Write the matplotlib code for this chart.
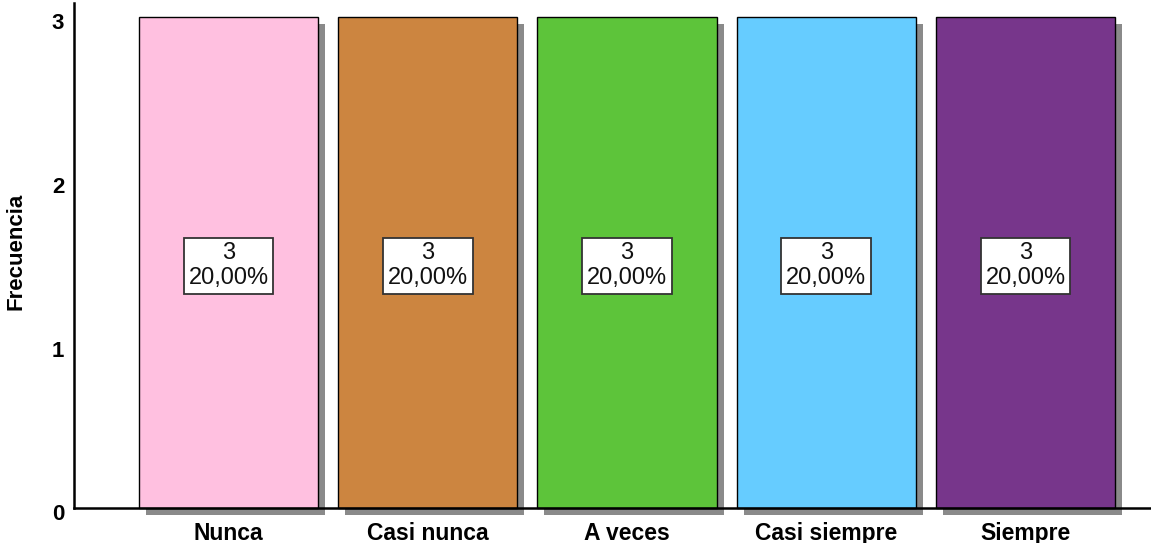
import matplotlib
matplotlib.use("Agg")
import matplotlib.pyplot as plt
import matplotlib.patheffects as pe
from matplotlib.transforms import ScaledTranslation

plt.rcParams["font.family"] = ["Liberation Sans", "DejaVu Sans"]

categories = ["Nunca", "Casi nunca", "A veces", "Casi siempre", "Siempre"]
counts = [3, 3, 3, 3, 3]
percents = [20.0, 20.0, 20.0, 20.0, 20.0]
colors = ["#FFC0E0", "#CC8540", "#5DC43A", "#66CCFF", "#77368B"]
yticks = [0, 1, 2, 3]

fig = plt.figure(figsize=(11.51, 5.43), dpi=100)
ax = fig.add_axes([0.0643, 0.0645, 0.9357, 0.93])

x = list(range(len(categories)))
bars = ax.bar(x, counts, width=0.9, color=colors, edgecolor="black",
              linewidth=1.0, zorder=3)
for b in bars:
    b.set_clip_on(False)
    b.set_path_effects([
        pe.SimplePatchShadow(offset=(5, -5), shadow_rgbFace="#8a8a8a", alpha=1.0),
        pe.Normal(),
    ])

# value labels, sitting slightly below the bar midpoint
label_shift = ScaledTranslation(0, -3.5 / 100, fig.dpi_scale_trans)
for xi, c, p in zip(x, counts, percents):
    label = f"{c}\n{p:.2f}%".replace(".", ",")
    ax.text(xi, c / 2, label, ha="center", va="center", fontsize=17,
            linespacing=1.18, zorder=5, color="#111111",
            transform=ax.transData + label_shift,
            bbox=dict(boxstyle="square,pad=0.2", facecolor="white",
                      edgecolor="#333333", linewidth=1.3))

ax.set_xlim(-0.776, 4.63)
ax.set_ylim(0, 3.085)
ax.set_xticks(x)
ax.set_xticklabels(categories, fontsize=16.5, fontweight="bold")
ax.set_yticks(yticks)
ax.set_yticklabels([str(t) for t in yticks], fontsize=16, fontweight="bold")
ax.tick_params(axis="both", length=0)
ax.tick_params(axis="x", pad=10)
ax.tick_params(axis="y", pad=7)

# nudge the y tick labels slightly downward
shift = ScaledTranslation(0, -4.5 / 100, fig.dpi_scale_trans)
for lbl in ax.get_yticklabels():
    lbl.set_transform(lbl.get_transform() + shift)

ax.set_ylabel("Frecuencia", fontsize=16, fontweight="bold")
ax.yaxis.set_label_coords(-0.044, 0.509)

for side in ("top", "right"):
    ax.spines[side].set_visible(False)
for side in ("left", "bottom"):
    ax.spines[side].set_linewidth(1.8)
    ax.spines[side].set_zorder(4)

fig.savefig("out.png", dpi=100)
